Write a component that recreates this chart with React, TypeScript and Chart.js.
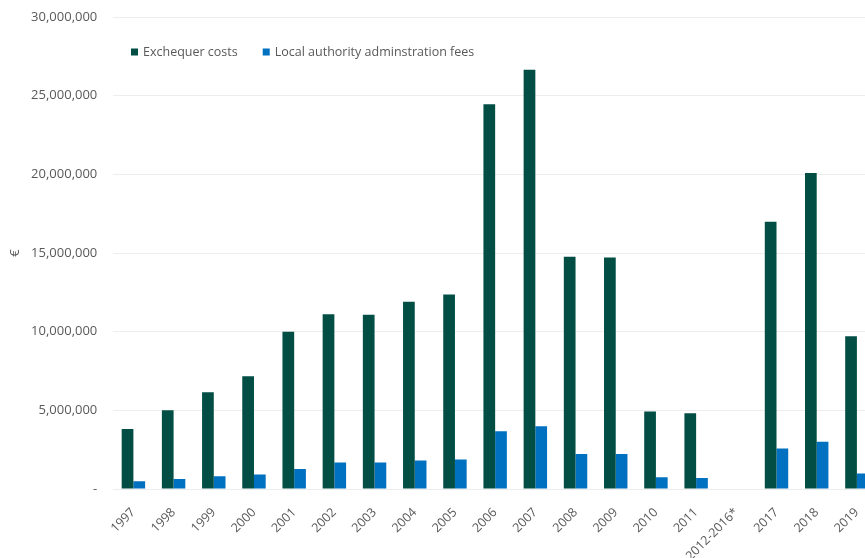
import React, { useEffect, useRef } from "react";
import { Chart, registerables } from "chart.js";

Chart.register(...registerables);

const categories = [
  "1997", "1998", "1999", "2000", "2001", "2002", "2003", "2004", "2005",
  "2006", "2007", "2008", "2009", "2010", "2011", "2012-2016*", "2017", "2018", "2019",
];

const exchequerCosts = [
  3820000, 5000000, 6150000, 7170000, 10000000, 11110000, 11070000, 11900000, 12370000,
  24450000, 26650000, 14760000, 14720000, 4920000, 4820000, null, 16980000, 20080000, 9710000,
];

const localAuthorityFees = [
  490000, 640000, 810000, 920000, 1270000, 1680000, 1680000, 1810000, 1870000,
  3670000, 3990000, 2230000, 2230000, 740000, 700000, null, 2570000, 3010000, 980000,
];

const seriesNames = ["Exchequer costs", "Local authority adminstration fees"];
const seriesColors = ["#024E44", "#0070C0"];
const yTicks = [0, 5000000, 10000000, 15000000, 20000000, 25000000, 30000000];
const yTitle = "€";

const FONT = "'Open Sans', sans-serif";
const TEXT = "#595959";

const legendPlugin = {
  id: "insideLegend",
  afterDraw(chart: any) {
    const ctx = chart.ctx;
    ctx.save();
    ctx.font = `12.5px ${FONT}`;
    ctx.textBaseline = "middle";
    ctx.textAlign = "left";
    let x = 131;
    const y = 52;
    seriesNames.forEach((name, i) => {
      ctx.fillStyle = seriesColors[i];
      ctx.fillRect(x, y - 3.5, 7, 7);
      ctx.fillStyle = TEXT;
      ctx.fillText(name, x + 12, y);
      x += 12 + ctx.measureText(name).width + 25;
    });
    ctx.restore();
  },
};

export default function App() {
  const ref = useRef<HTMLCanvasElement | null>(null);

  useEffect(() => {
    if (!ref.current) return;
    const chart = new Chart(ref.current, {
      type: "bar",
      data: {
        labels: categories,
        datasets: [
          {
            label: seriesNames[0],
            data: exchequerCosts,
            backgroundColor: seriesColors[0],
            categoryPercentage: 0.583,
            barPercentage: 1,
          },
          {
            label: seriesNames[1],
            data: localAuthorityFees,
            backgroundColor: seriesColors[1],
            categoryPercentage: 0.583,
            barPercentage: 1,
          },
        ],
      },
      options: {
        responsive: false,
        animation: false,
        devicePixelRatio: 1,
        layout: { padding: { top: 17, left: 0, right: 0, bottom: 0 } },
        plugins: {
          legend: { display: false },
          tooltip: { enabled: false },
        },
        scales: {
          x: {
            grid: { display: false },
            border: { display: false },
            ticks: {
              color: TEXT,
              font: { family: FONT, size: 12.5 },
              minRotation: 45,
              maxRotation: 45,
              padding: 8,
              autoSkip: false,
            },
            afterFit(scale: any) {
              scale.height = 69;
            },
          },
          y: {
            min: 0,
            max: 30000000,
            afterBuildTicks(scale: any) {
              scale.ticks = yTicks.map((v) => ({ value: v }));
            },
            grid: { color: "#EDEDED", lineWidth: 1, drawTicks: false },
            border: { display: false },
            ticks: {
              color: TEXT,
              font: { family: FONT, size: 13 },
              padding: 16,
              callback: (v: any) => (Number(v) === 0 ? "-" : Number(v).toLocaleString("en-US")),
            },
            title: {
              display: true,
              text: yTitle,
              color: TEXT,
              font: { family: FONT, size: 13 },
              padding: { top: 7, bottom: 0 },
            },
            afterFit(scale: any) {
              scale.width = 113.3;
              scale.paddingTop = 0;
              scale.paddingBottom = 0;
            },
          },
        },
      },
      plugins: [legendPlugin],
    } as any);
    return () => chart.destroy();
  }, []);

  return (
    <div
      style={{
        position: "fixed",
        left: 0,
        top: 0,
        width: 865,
        height: 558,
        overflow: "hidden",
        background: "#ffffff",
      }}
    >
      <canvas ref={ref} width={877} height={558} style={{ width: 877, height: 558, display: "block" }} />
    </div>
  );
}
